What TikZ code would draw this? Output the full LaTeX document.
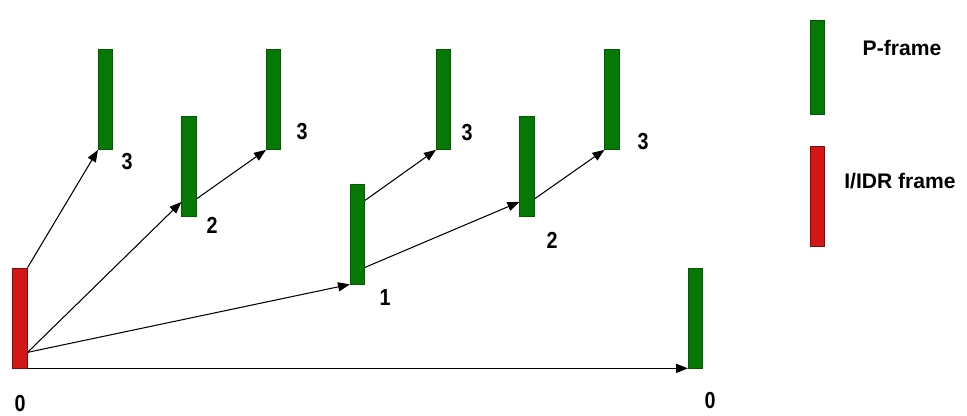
\documentclass[tikz,border=0pt]{standalone}
\usepackage{fontspec}
\setmainfont{Liberation Sans}
\newfontfamily\narrowsans[FakeStretch=0.85]{Liberation Sans}
\usetikzlibrary{arrows.meta,calc}
\definecolor{pgreen}{RGB}{5,120,5}
\definecolor{ired}{RGB}{212,22,22}
\tikzset{
  pbar/.style={draw=pgreen!75!black, fill=pgreen, line width=0.5pt,
    inner sep=0pt, minimum width=0.36cm, minimum height=2.5cm},
  ibar/.style={pbar, draw=ired!60!black, fill=ired},
  ref/.style={-{Triangle[length=8.5pt,width=6.5pt]}, line width=0.75pt},
  lvl/.style={font=\narrowsans\bfseries\fontsize{16.5}{16.5}\selectfont, inner sep=0pt},
  keytext/.style={font=\bfseries\fontsize{15}{15}\selectfont, inner sep=0pt}
}
\begin{document}
\begin{tikzpicture}[x=0.025cm,y=-0.025cm]
  \useasboundingbox (0,0) rectangle (967,415);
  % frames in display order
  \node[ibar] (i0) at (20,318) {};
  \node[pbar] (a3) at (105.5,99.5) {};
  \node[pbar] (b2) at (189,166.5) {};
  \node[pbar] (c3) at (273.5,99.5) {};
  \node[pbar] (d1) at (357.5,234) {};
  \node[pbar] (e3) at (443.5,99.5) {};
  \node[pbar] (f2) at (527,166.5) {};
  \node[pbar] (g3) at (612,99.5) {};
  \node[pbar] (h0) at (695.5,318) {};
  % temporal levels
  \node[lvl] (i0-lvl) at (20,404) {0};
  \node[lvl] (a3-lvl) at (127,162) {3};
  \node[lvl] (b2-lvl) at (212,225) {2};
  \node[lvl] (c3-lvl) at (302,132) {3};
  \node[lvl] (d1-lvl) at (385,298) {1};
  \node[lvl] (e3-lvl) at (467,133) {3};
  \node[lvl] (f2-lvl) at (552,240) {2};
  \node[lvl] (g3-lvl) at (643,142) {3};
  \node[lvl] (h0-lvl) at (710,401) {0};
  % prediction references
  \draw[ref] (i0.north east) -- (a3.south west);
  \draw[ref] ($(i0.south east)+(0,-16)$) -- ($(b2.south west)+(0,-15)$);
  \draw[ref] ($(i0.south east)+(0,-16)$) -- (d1.south west);
  \draw[ref] (i0.south east) -- (h0.south west);
  \draw[ref] ($(b2.south east)+(0,-18)$) -- (c3.south west);
  \draw[ref] ($(d1.south east)+(0,-84)$) -- (e3.south west);
  \draw[ref] ($(d1.south east)+(0,-17)$) -- ($(f2.south west)+(0,-15)$);
  \draw[ref] ($(f2.south east)+(0,-18)$) -- (g3.south west);
  % legend
  \node[pbar, minimum height=2.35cm] (key-p) at (817.5,67) {};
  \node[ibar] (key-i) at (817.5,196) {};
  \node[keytext] (key-p-text) at (902,48) {P-frame};
  \node[keytext] (key-i-text) at (900,181) {I/IDR frame};
\end{tikzpicture}
\end{document}
